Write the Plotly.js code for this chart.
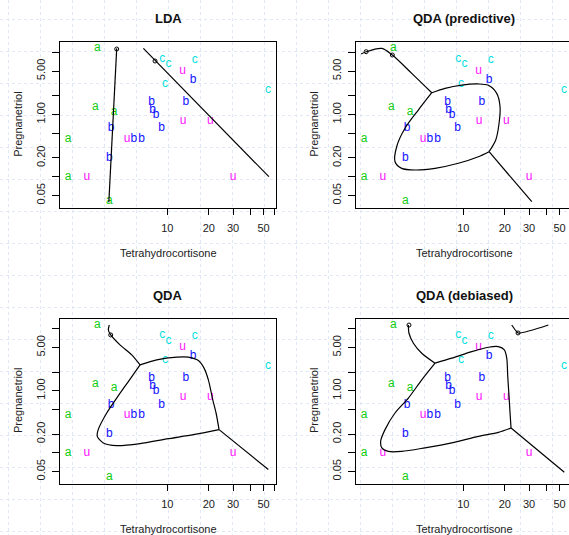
<!DOCTYPE html>
<html><head><meta charset="utf-8">
<script src="https://cdn.plot.ly/plotly-3.0.1.min.js"></script>
<style>html,body{margin:0;padding:0;background:#fff}#chart{width:569px;height:535px}</style>
</head><body><div id="chart"></div>
<script>
// ---- Cushings data (MASS) ----
const typeLabels = ['a','a','a','a','a','a','b','b','b','b','b','b','b','b','b','b','c','c','c','c','c','u','u','u','u','u','u'];
const tetrahydrocortisone = [3.1,3.0,1.9,3.8,4.1,1.9, 8.3,3.8,3.9,7.8,9.1,15.4,7.7,6.5,5.7,13.6, 10.2,9.2,9.6,53.8,15.8, 5.1,12.9,13.0,2.6,30.0,20.5];
const pregnanetriol = [11.7,1.3,0.1,0.04,1.1,0.4, 1.0,0.2,0.6,1.2,0.6,3.6,1.6,0.4,0.4,1.6, 6.4,7.9,3.1,2.5,7.6, 0.4,5.0,0.8,0.1,0.1,0.8];
const typeNames = ['a','b','c','u'];
const typeColors = ['#11cc11','#1111ff','#00e0e0','#ff11ff'];

// axis ticks
const xTickVals = [10,20,30,40,50,60];
const xTickText = ['10','20','30','','50',''];
const yTickVals = [0.05,0.1,0.2,0.5,1,2,5,10];
const yTickText = ['0.05','','0.20','','1.00','','5.00',''];

// ---- decision boundaries (data units) ----
// LDA
const ldaAB_x = [4.29, 3.76],  ldaAB_y = [11.59, 0.0388];
const ldaBC_x = [6.70, 54.6],  ldaBC_y = [11.59, 0.0998];
const ldaO_x = [4.29, 8.14],   ldaO_y = [11.33, 7.26];
// QDA (predictive)
const qpTop_x = [1.81, 1.97, 2.56, 3.05, 4.22, 5.90];
const qpTop_y = [9.41, 10.25, 11.59, 9.07, 4.60, 2.24];
const qpUp_x = [5.90, 7.36, 9.74, 12.85, 15.19, 17.48, 18.47, 18.17, 17.19, 15.37];
const qpUp_y = [2.24, 2.64, 2.98, 3.10, 2.95, 2.19, 1.335, 0.722, 0.389, 0.252];
const qpLo_x = [5.90, 4.71, 3.77, 3.28, 3.19, 3.57, 4.46, 6.23, 9.20, 12.85, 15.37];
const qpLo_y = [2.24, 1.18, 0.600, 0.303, 0.174, 0.136, 0.128, 0.136, 0.164, 0.209, 0.252];
const qpTail_x = [15.37, 31.4], qpTail_y = [0.252, 0.0395];
const qpO_x = [1.97, 3.05], qpO_y = [10.25, 9.07];
// QDA
const qTop_x = [3.79, 3.73, 3.88, 4.53, 5.51, 6.34];
const qTop_y = [11.54, 9.59, 7.97, 5.50, 3.80, 2.62];
const qUp_x = [6.34, 8.38, 11.70, 14.21, 16.80, 18.47, 19.85, 21.37, 22.58, 23.74];
const qUp_y = [2.62, 3.16, 3.49, 3.49, 3.07, 2.32, 1.50, 0.716, 0.438, 0.236];
const qLo_x = [6.34, 5.21, 4.29, 3.63, 3.15, 3.10, 3.43, 4.29, 6.34, 9.90, 15.45, 23.74];
const qLo_y = [2.62, 1.41, 0.763, 0.438, 0.236, 0.184, 0.144, 0.130, 0.140, 0.167, 0.196, 0.236];
const qTail_x = [23.74, 54.1], qTail_y = [0.236, 0.0535];
const qO_x = [3.88], qO_y = [7.97];
// QDA (debiased)
const dTop_x = [3.99, 4.03, 4.34, 4.99, 6.23];
const dTop_y = [11.54, 8.49, 5.86, 4.04, 2.79];
const dUp_x = [6.23, 8.24, 11.51, 15.19, 17.96, 19.85, 20.66, 21.01, 21.47, 21.83, 22.20];
const dUp_y = [2.79, 3.36, 4.29, 5.05, 5.16, 4.57, 3.36, 1.70, 0.810, 0.438, 0.251];
const dLo_x = [6.23, 4.99, 3.99, 3.19, 2.70, 2.51, 2.56, 2.85, 3.57, 5.27, 8.24, 12.85, 17.96, 22.20];
const dLo_y = [2.79, 1.50, 0.763, 0.438, 0.236, 0.153, 0.120, 0.105, 0.105, 0.120, 0.144, 0.184, 0.213, 0.251];
const dTail_x = [22.20, 54.1], dTail_y = [0.251, 0.0484];
const dRight_x = [22.46, 24.14, 24.96, 41.43], dRight_y = [11.54, 9.24, 8.58, 11.54];
const dO_x = [4.03, 24.96], dO_y = [11.5, 8.58];

const panelTitles = ['LDA', 'QDA (predictive)', 'QDA', 'QDA (debiased)'];
const panelLines = [
  [[ldaAB_x, ldaAB_y, false], [ldaBC_x, ldaBC_y, false]],
  [[qpTop_x, qpTop_y, true], [qpUp_x, qpUp_y, true], [qpLo_x, qpLo_y, true], [qpTail_x, qpTail_y, false]],
  [[qTop_x, qTop_y, true], [qUp_x, qUp_y, true], [qLo_x, qLo_y, true], [qTail_x, qTail_y, false]],
  [[dTop_x, dTop_y, true], [dUp_x, dUp_y, true], [dLo_x, dLo_y, true], [dTail_x, dTail_y, false], [dRight_x, dRight_y, true]]
];
const panelCircles = [[ldaO_x, ldaO_y], [qpO_x, qpO_y], [qO_x, qO_y], [dO_x, dO_y]];

// ---- layout geometry (pixels) ----
const W = 569, H = 535;
const FONT = 'Liberation Sans, Arial, sans-serif';
const boxes = [ // left, right, top, bottom
  [60, 276, 42, 207.5], [356, 572, 42, 207.5],
  [60, 276, 318.5, 483.5], [356, 572, 318.5, 483.5]
];
const xLogLo = 0.22067, xLogHi = 1.78886, yLogLo = -1.49659, yLogHi = 1.16683;

const traces = [{x: [], y: [], xaxis: 'x', yaxis: 'y', type: 'scatter', hoverinfo: 'skip', showlegend: false}];
const layout = {
  width: W, height: H, margin: {l: 0, r: 0, t: 0, b: 0},
  paper_bgcolor: '#ffffff', plot_bgcolor: 'rgba(0,0,0,0)', showlegend: false,
  font: {family: FONT, color: '#222'},
  xaxis: {domain: [0, 1], range: [0, W], tick0: 8.5, dtick: 32, showgrid: true, gridcolor: '#e2e7f6',
          griddash: '3px,3px', gridwidth: 1, zeroline: false, showticklabels: false, ticks: '', fixedrange: true},
  yaxis: {domain: [0, 1], range: [H, 0], tick0: 19.5, dtick: 32, showgrid: true, gridcolor: '#e2e7f6',
          griddash: '3px,3px', gridwidth: 1, zeroline: false, showticklabels: false, ticks: '', fixedrange: true},
  annotations: []
};

boxes.forEach((b, i) => {
  const n = i + 2;
  const xa = 'x' + n, ya = 'y' + n;
  const left = b[0], right = Math.min(b[1], W), top = b[2], bottom = b[3];
  const pxPerDecX = (b[1] - b[0]) / (xLogHi - xLogLo);
  const xHi = xLogLo + (right - left) / pxPerDecX;
  const cut = b[1] > W;
  layout['xaxis' + n] = {
    domain: [left / W, right / W], anchor: ya, type: 'log', range: [xLogLo, xHi],
    showline: true, linecolor: '#000', linewidth: 1, mirror: true,
    ticks: 'outside', ticklen: 6, tickcolor: '#000', tickwidth: 1,
    tickvals: xTickVals, ticktext: xTickText, tickfont: {size: 11, color: '#222', family: FONT},
    ticklabelstandoff: 4, showgrid: false, zeroline: false, fixedrange: true
  };
  layout['yaxis' + n] = {
    domain: [1 - bottom / H, 1 - top / H], anchor: xa, type: 'log', range: [yLogLo, yLogHi],
    showline: true, linecolor: '#000', linewidth: 1, mirror: !cut,
    ticks: 'outside', ticklen: 7, tickcolor: '#000', tickwidth: 1, tickangle: -90,
    tickvals: yTickVals, ticktext: yTickText, tickfont: {size: 11, color: '#222', family: FONT},
    ticklabelstandoff: 3, showgrid: false, zeroline: false, fixedrange: true
  };
  // points
  typeNames.forEach((t, k) => {
    const xs = [], ys = [], tx = [];
    typeLabels.forEach((lab, j) => { if (lab === t) { xs.push(tetrahydrocortisone[j]); ys.push(pregnanetriol[j]); tx.push(lab); } });
    traces.push({x: xs, y: ys, text: tx, mode: 'text', type: 'scatter', xaxis: xa, yaxis: ya,
      textposition: 'middle center', textfont: {family: FONT, size: 12, color: typeColors[k]},
      hoverinfo: 'skip', cliponaxis: false});
  });
  // boundaries
  panelLines[i].forEach(l => {
    traces.push({x: l[0], y: l[1], mode: 'lines', type: 'scatter', xaxis: xa, yaxis: ya,
      line: {color: '#000', width: 1.2, shape: l[2] ? 'spline' : 'linear', smoothing: 0.8},
      hoverinfo: 'skip', cliponaxis: true});
  });
  traces.push({x: panelCircles[i][0], y: panelCircles[i][1], mode: 'markers', type: 'scatter', xaxis: xa, yaxis: ya,
    marker: {symbol: 'circle-open', size: 4, color: '#000', line: {width: 1, color: '#000'}}, hoverinfo: 'skip', cliponaxis: false});
  // titles
  const cx = (b[0] + b[1]) / 2;
  layout.annotations.push({text: '<b>' + panelTitles[i] + '</b>', xref: 'paper', yref: 'paper',
    x: cx / W, y: 1 - (top - 23) / H, showarrow: false, xanchor: 'center', yanchor: 'middle',
    font: {family: FONT, size: 13, color: '#111'}});
  layout.annotations.push({text: 'Tetrahydrocortisone', xref: 'paper', yref: 'paper',
    x: cx / W, y: 1 - (bottom + 45) / H, showarrow: false, xanchor: 'center', yanchor: 'middle',
    font: {family: FONT, size: 11, color: '#222'}});
  layout.annotations.push({text: 'Pregnanetriol', xref: 'paper', yref: 'paper', textangle: -90,
    x: (b[0] - 42) / W, y: 1 - ((top + bottom) / 2) / H, showarrow: false, xanchor: 'center', yanchor: 'middle',
    font: {family: FONT, size: 11, color: '#222'}});
});

Plotly.newPlot('chart', traces, layout, {staticPlot: true, displayModeBar: false});
</script></body></html>
